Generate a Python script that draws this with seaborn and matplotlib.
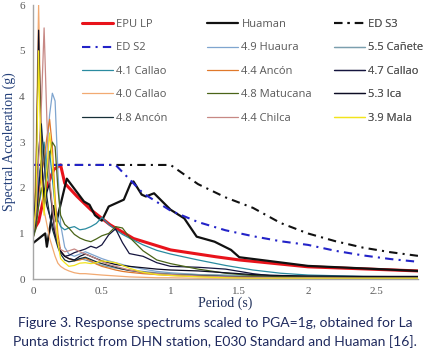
import numpy as np
import pandas as pd
import matplotlib
matplotlib.use("Agg")
import matplotlib.pyplot as plt
import seaborn as sns

# design spectra and reference curves
epu_t = [0, 0.04, 0.09, 0.15, 0.20, 0.23, 0.32, 0.42, 0.56, 0.73, 1.0, 1.33, 1.5, 2.0, 2.8]
epu_v = [1.05, 1.26, 1.95, 2.4, 2.5, 2.1, 1.81, 1.52, 1.19, 0.89, 0.64, 0.49, 0.42, 0.27, 0.18]

huaman_t = [0, 0.088, 0.10, 0.148, 0.17, 0.245, 0.37, 0.41, 0.45, 0.50, 0.55, 0.66, 0.71,
            0.73, 0.79, 0.82, 0.88, 1.0, 1.10, 1.19, 1.32, 1.44, 1.5, 2.0, 2.8]
huaman_v = [0.79, 1.0, 0.71, 1.6, 1.26, 2.2, 1.7, 1.63, 1.4, 1.28, 1.59, 1.74, 2.1,
            2.14, 1.85, 1.81, 1.88, 1.52, 1.33, 0.93, 0.82, 0.64, 0.48, 0.29, 0.18]

eds3_t = [0, 1.0, 1.2, 1.4, 1.6, 1.8, 2.0, 2.2, 2.4, 2.6, 2.8]
eds3_v = [2.5, 2.5, 2.08, 1.79, 1.56, 1.23, 1.0, 0.83, 0.69, 0.59, 0.51]

eds2_t = [0, 0.6, 0.8, 1.0, 1.2, 1.4, 1.6, 1.8, 2.0, 2.2, 2.4, 2.6, 2.8]
eds2_v = [2.5, 2.5, 1.88, 1.5, 1.25, 1.07, 0.94, 0.83, 0.75, 0.62, 0.52, 0.44, 0.38]

# recorded events, common period grid
periods = [0, 0.02, 0.04, 0.06, 0.08, 0.10, 0.12, 0.14, 0.16, 0.18, 0.20, 0.23, 0.26,
           0.30, 0.34, 0.38, 0.42, 0.46, 0.50, 0.55, 0.60, 0.65, 0.70, 0.80, 0.90, 1.0,
           1.2, 1.4, 1.6, 1.8, 2.0, 2.4, 2.8]

huaura_49 = [1.0, 1.2, 1.6, 1.9, 2.2, 2.8, 3.6, 4.07, 3.9, 2.4, 1.2, 0.7, 0.55, 0.5, 0.55,
             0.6, 0.55, 0.5, 0.45, 0.4, 0.36, 0.32, 0.28, 0.22, 0.17, 0.14, 0.1, 0.07,
             0.06, 0.05, 0.05, 0.04, 0.04]
canete_55 = [1.0, 1.3, 1.9, 2.4, 2.9, 2.5, 2.0, 1.5, 1.1, 0.8, 0.6, 0.5, 0.45, 0.42, 0.45,
             0.42, 0.38, 0.34, 0.3, 0.27, 0.24, 0.22, 0.2, 0.17, 0.14, 0.12, 0.1, 0.09,
             0.08, 0.07, 0.06, 0.05, 0.05]
callao_41 = [1.0, 1.3, 2.2, 2.6, 3.0, 2.4, 2.8, 2.2, 1.6, 1.3, 1.15, 1.08, 1.12, 1.15, 1.08,
             1.1, 1.15, 1.22, 1.35, 1.2, 1.08, 0.98, 0.9, 0.75, 0.63, 0.55, 0.42, 0.3,
             0.2, 0.13, 0.09, 0.06, 0.05]
ancon_44 = [0.9, 1.2, 1.8, 2.3, 2.6, 3.1, 3.5, 2.9, 1.8, 1.0, 0.62, 0.5, 0.45, 0.4, 0.42,
            0.46, 0.4, 0.33, 0.28, 0.24, 0.2, 0.17, 0.15, 0.12, 0.1, 0.08, 0.06, 0.05,
            0.04, 0.03, 0.03, 0.02, 0.02]
callao_47 = [0.9, 1.2, 2.0, 2.6, 2.0, 1.6, 1.4, 1.2, 0.95, 0.8, 0.62, 0.5, 0.52, 0.58, 0.62,
             0.66, 0.72, 0.68, 0.75, 0.97, 1.1, 0.8, 0.56, 0.5, 0.36, 0.28, 0.26, 0.22,
             0.12, 0.05, 0.04, 0.03, 0.03]
callao_40 = [1.0, 2.5, 6.0, 3.0, 1.5, 1.2, 0.9, 0.7, 0.5, 0.35, 0.28, 0.22, 0.18, 0.14, 0.12,
             0.12, 0.11, 0.1, 0.09, 0.08, 0.07, 0.06, 0.05, 0.04, 0.03, 0.03, 0.02, 0.02,
             0.02, 0.01, 0.01, 0.01, 0.01]
matucana_48 = [0.9, 1.1, 1.6, 2.0, 1.8, 2.2, 2.7, 3.0, 2.9, 2.0, 1.4, 1.2, 1.12, 0.98, 0.9,
               0.85, 0.82, 0.88, 0.95, 1.0, 1.15, 1.12, 0.92, 0.62, 0.42, 0.34, 0.22, 0.13,
               0.08, 0.06, 0.05, 0.04, 0.03]
ica_53 = [0.9, 2.0, 5.45, 2.8, 1.6, 1.9, 2.1, 1.5, 1.0, 0.75, 0.6, 0.5, 0.45, 0.42, 0.5,
          0.55, 0.5, 0.45, 0.4, 0.36, 0.32, 0.3, 0.28, 0.25, 0.22, 0.2, 0.18, 0.14, 0.1,
          0.08, 0.07, 0.06, 0.06]
ancon_48 = [0.9, 1.5, 2.8, 3.4, 2.6, 1.8, 1.4, 1.1, 0.9, 0.7, 0.55, 0.42, 0.38, 0.4, 0.45,
            0.48, 0.43, 0.38, 0.34, 0.3, 0.26, 0.22, 0.19, 0.15, 0.12, 0.1, 0.08, 0.06,
            0.05, 0.04, 0.04, 0.03, 0.03]
chilca_44 = [1.0, 1.4, 2.6, 3.8, 5.5, 3.5, 2.2, 1.6, 1.1, 0.8, 0.65, 0.6, 0.62, 0.66, 0.6,
             0.55, 0.5, 0.45, 0.38, 0.32, 0.28, 0.24, 0.2, 0.15, 0.12, 0.1, 0.07, 0.05,
             0.04, 0.03, 0.03, 0.02, 0.02]
mala_39 = [0.98, 1.6, 5.0, 2.2, 1.4, 2.4, 3.2, 2.6, 1.6, 0.8, 0.45, 0.36, 0.28, 0.3, 0.35,
           0.36, 0.34, 0.36, 0.4, 0.38, 0.36, 0.3, 0.24, 0.15, 0.1, 0.08, 0.05, 0.03,
           0.02, 0.02, 0.02, 0.02, 0.02]

xticks = [0, 0.5, 1, 1.5, 2, 2.5]
yticks = [0, 1, 2, 3, 4, 5, 6]

sns.set_style("white")
plt.rcParams["font.family"] = ["Liberation Serif", "DejaVu Serif"]

fig = plt.figure(figsize=(4.3, 3.63), dpi=100)
ax = fig.add_axes([0.077, 0.231, 0.895, 0.755])

def draw(t, v, label, color, lw, dashes=None):
    sns.lineplot(x=t, y=v, ax=ax, color=color, linewidth=lw, label=label,
                 sort=False, estimator=None, legend=False)
    line = ax.lines[-1]
    line.set_label(label)
    if dashes is not None:
        line.set_dashes(dashes)
    return line

handles = []
handles.append(draw(epu_t, epu_v, "EPU LP", "#e8131b", 2.2))
handles.append(draw(huaman_t, huaman_v, "Huaman", "#111111", 1.6))
handles.append(draw(eds3_t, eds3_v, "ED S3", "#111111", 1.5, (4, 2.5, 1, 2.5)))
handles.append(draw(eds2_t, eds2_v, "ED S2", "#2323c8", 1.5, (4, 2.5, 1, 2.5)))
records = [
    (huaura_49, "4.9 Huaura", "#7fa5cf"),
    (canete_55, "5.5 Cañete", "#7b9fae"),
    (callao_41, "4.1 Callao", "#2a8ba0"),
    (ancon_44, "4.4 Ancón", "#e0782a"),
    (callao_47, "4.7 Callao", "#15153e"),
    (callao_40, "4.0 Callao", "#f2aa72"),
    (matucana_48, "4.8 Matucana", "#4a6418"),
    (ica_53, "5.3 Ica", "#0c0c24"),
    (ancon_48, "4.8 Ancón", "#173038"),
    (chilca_44, "4.4 Chilca", "#c78884"),
    (mala_39, "3.9 Mala", "#f2e41c"),
]
for vals, name, col in records:
    handles.append(draw(periods, vals, name, col, 0.9))

# legend reads row by row in 3 equal-width columns -> one legend per column
col_x = [82, 207, 334]
for c in range(3):
    hs = handles[c::3]
    leg = ax.legend(handles=hs, labels=[h.get_label() for h in hs], frameon=False,
                    loc="upper left", bbox_to_anchor=(col_x[c] / 430, 1 - 19 / 363),
                    bbox_transform=fig.transFigure, borderaxespad=0, borderpad=0,
                    prop={"family": ["Open Sans", "DejaVu Sans"], "size": 8},
                    handlelength=2.8, labelspacing=1.12, handletextpad=0.3,
                    labelcolor="#595959")
    ax.add_artist(leg)

ax.set_xlim(0, 2.8)
ax.set_ylim(0, 6)
ax.set_xticks(xticks)
ax.set_xticklabels([f"{t:g}" for t in xticks])
ax.set_yticks(yticks)
ax.tick_params(length=0, labelsize=8, labelcolor="#595959", pad=6)
for s in ["top", "right"]:
    ax.spines[s].set_visible(False)
for s in ["left", "bottom"]:
    ax.spines[s].set_color("#a6a6a6")
    ax.spines[s].set_linewidth(1.0)

ax.set_xlabel("Period (s)", fontsize=10, color="#1f2f5a", labelpad=0)
ax.set_ylabel("Spectral Acceleration (g)", fontsize=10, color="#24407a", labelpad=2)

fig.text(0.5, 0.11, "Figure 3. Response spectrums scaled to PGA=1g, obtained for La",
         ha="center", va="center", fontsize=10, color="#1f2a5e", family=["Lato", "DejaVu Sans"])
fig.text(0.5, 0.058, "Punta district from DHN station, E030 Standard and Huaman [16].",
         ha="center", va="center", fontsize=10, color="#1f2a5e", family=["Lato", "DejaVu Sans"])

fig.savefig("out.png", dpi=100, facecolor="white")
